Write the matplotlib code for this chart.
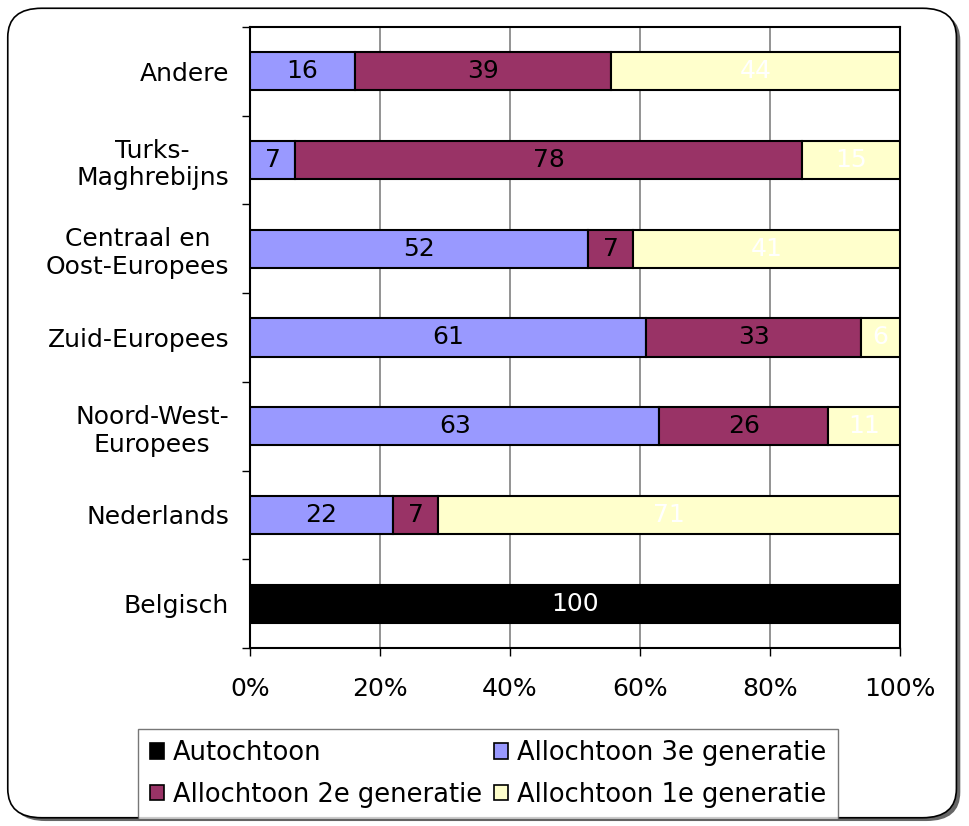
import matplotlib
matplotlib.use("Agg")
import matplotlib.pyplot as plt
from matplotlib.patches import FancyBboxPatch, Patch
import numpy as np

categories = ["Andere", "Turks-\nMaghrebijns", "Centraal en\nOost-Europees",
              "Zuid-Europees", "Noord-West-\nEuropees", "Nederlands", "Belgisch"]
autochtoon = [0, 0, 0, 0, 0, 0, 100]
gen3 = [16, 7, 52, 61, 63, 22, 0]
gen2 = [39, 78, 7, 33, 26, 7, 0]
gen1 = [44, 15, 41, 6, 11, 71, 0]
series_names = ["Autochtoon", "Allochtoon 3e generatie",
                "Allochtoon 2e generatie", "Allochtoon 1e generatie"]
colors = ["#000000", "#9999FF", "#993366", "#FFFFCC"]
text_colors = ["white", "black", "black", "white"]

plt.rcParams['font.family'] = ['DejaVu Sans']
fig = plt.figure(figsize=(9.7, 8.26), dpi=100)

# rounded frame with shadow
shadow = FancyBboxPatch((0.012, 0.006), 0.978, 0.980, boxstyle="round,pad=0,rounding_size=0.035",
                        transform=fig.transFigure, facecolor="#666666", edgecolor="none", zorder=0)
frame = FancyBboxPatch((0.008, 0.010), 0.978, 0.980, boxstyle="round,pad=0,rounding_size=0.035",
                       transform=fig.transFigure, facecolor="white", edgecolor="black", lw=1.2, zorder=1)
fig.patches.extend([shadow, frame])

ax = fig.add_axes([250/970, 1-648/826, 650/970, 621/826])
ax.set_zorder(2)

data = np.array([autochtoon, gen3, gen2, gen1], dtype=float)
totals = data.sum(axis=0)
pct = data / totals * 100
y = np.arange(len(categories))
left = np.zeros(len(categories))
handles = []
for i in range(4):
    ax.barh(y, pct[i], left=left, height=0.43, color=colors[i],
            edgecolor="black", linewidth=1.5, zorder=3)
    for j in range(len(categories)):
        if data[i, j] > 0:
            ax.text(left[j] + pct[i, j] / 2, y[j], f"{int(data[i, j])}",
                    ha="center", va="center", color=text_colors[i], fontsize=18, zorder=4)
    left += pct[i]
    handles.append(Patch(facecolor=colors[i], edgecolor="black", linewidth=1.2, label=series_names[i]))

ax.set_ylim(len(categories) - 0.5, -0.5)
ax.set_xlim(0, 100)
ax.set_xticks([0, 20, 40, 60, 80, 100])
ax.set_xticklabels(["0%", "20%", "40%", "60%", "80%", "100%"])
ax.set_yticks(y)
ax.set_yticklabels(categories, multialignment="center")
ax.set_yticks(np.arange(-0.5, len(categories)), minor=True)
ax.tick_params(axis="y", which="major", length=0, pad=15, labelsize=18)
ax.tick_params(axis="y", which="minor", length=6, width=1, color="black")
ax.tick_params(axis="x", length=6, width=1, pad=15, labelsize=18)
ax.grid(axis="x", color="#808080", linewidth=1.2, zorder=0)
for s in ax.spines.values():
    s.set_color("black")
    s.set_linewidth(1.5)

leg = fig.legend(handles=[handles[0], handles[2], handles[1], handles[3]],
                 labels=[series_names[0], series_names[2], series_names[1], series_names[3]],
                 ncol=2, loc="center", bbox_to_anchor=(488/970, 1-774/826),
                 fontsize=18.5, frameon=True, fancybox=False, edgecolor="#555555",
                 handlelength=0.55, handleheight=0.55, handletextpad=0.35,
                 columnspacing=0.45, labelspacing=0.6, borderpad=0.45)
leg.get_frame().set_linewidth(1.0)
leg.set_zorder(5)

fig.savefig("out.png", dpi=100)
